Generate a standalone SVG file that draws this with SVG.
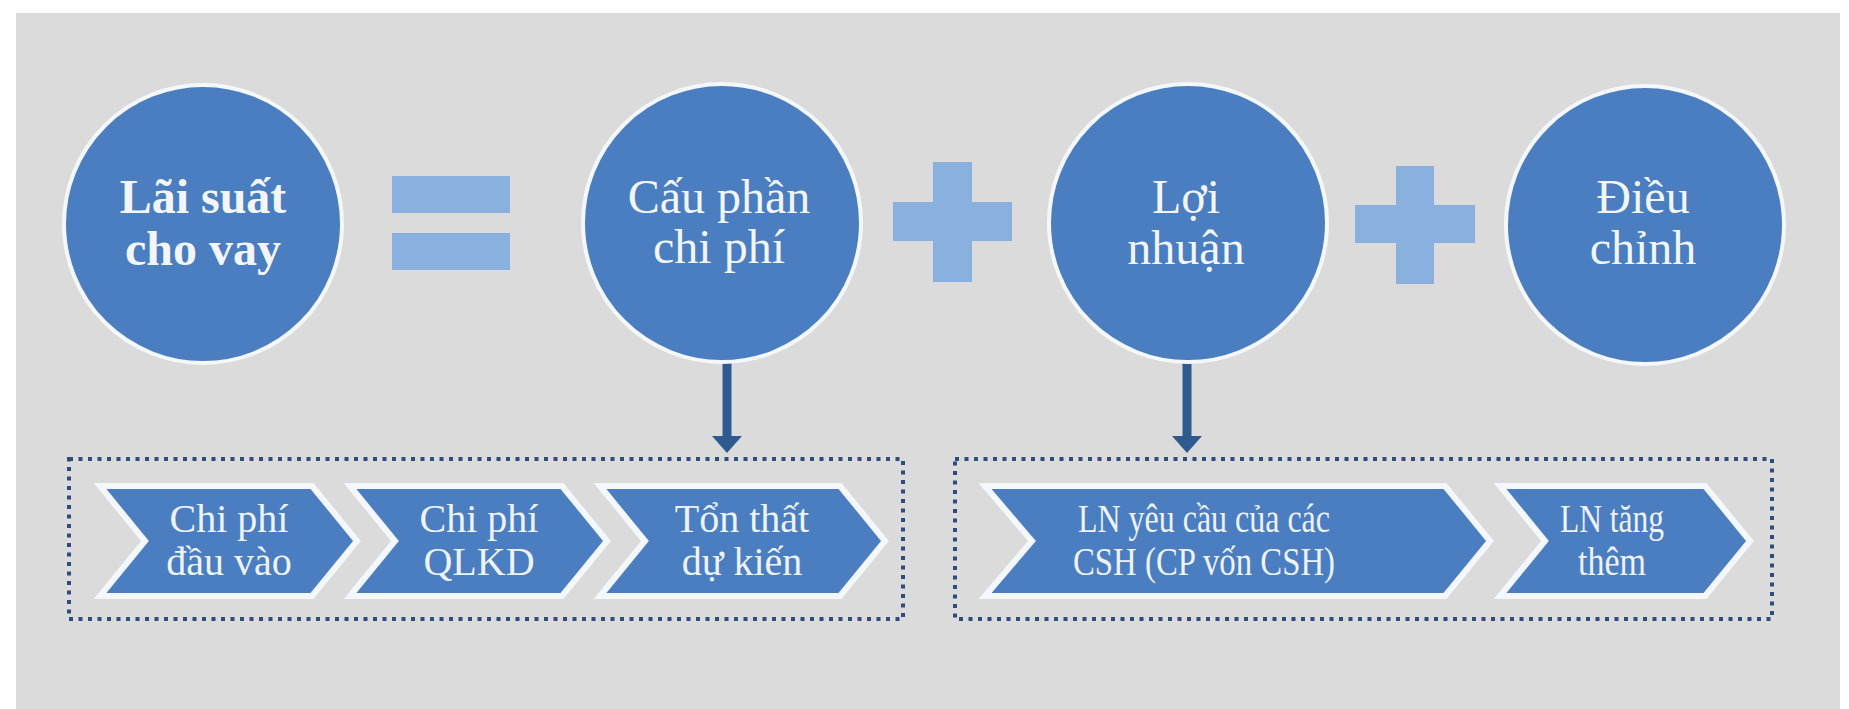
<svg xmlns="http://www.w3.org/2000/svg" width="1849" height="709" viewBox="0 0 1849 709">
  <style>
    .circ { fill: #4A7EC0; stroke: #F4F8FC; stroke-width: 4; }
    .chev { fill: #4A7EC0; stroke: #F4F8FC; stroke-width: 6; stroke-linejoin: miter; }
    .op { fill: #8AB0DF; }
    .ct { font-family: "Liberation Serif", "Times New Roman", serif; font-size: 48px; fill: #F2F6FB; text-anchor: middle; }
    .ctb { font-weight: bold; }
    .cht { font-family: "Liberation Serif", "Times New Roman", serif; font-size: 40px; fill: #EEF3FA; text-anchor: middle; }
    .dots { fill: none; stroke: #2E4C7C; stroke-width: 4; stroke-dasharray: 4 5.5; }
    .shaft { stroke: #2F5A8E; stroke-width: 9; }
    .head { fill: #2F5A8E; }
  </style>
  <rect x="0" y="0" width="1849" height="709" fill="#FFFFFF"/>
  <rect x="16" y="13" width="1824" height="696" fill="#DBDBDB"/>

  <g id="operators">
    <rect class="op" x="392" y="176" width="118" height="37"/>
    <rect class="op" x="392" y="233" width="118" height="37"/>
    <path class="op" d="M933 162 H972 V202 H1012 V241 H972 V282 H933 V241 H893 V202 H933 Z"/>
    <path class="op" d="M1396 166 H1434 V205 H1475 V243 H1434 V284 H1396 V243 H1355 V205 H1396 Z"/>
  </g>

  <g id="connectors">
    <line class="shaft" x1="727" y1="362" x2="727" y2="438"/>
    <polygon class="head" points="712,436 742,436 727,453"/>
    <line class="shaft" x1="1187" y1="362" x2="1187" y2="438"/>
    <polygon class="head" points="1172,436 1202,436 1187,453"/>
  </g>

  <g id="node-lai-suat">
    <circle class="circ" cx="203" cy="224" r="139"/>
    <text class="ct ctb" x="203" y="213">Lãi suất</text>
    <text class="ct ctb" x="203" y="265">cho vay</text>
  </g>
  <g id="node-cau-phan">
    <circle class="circ" cx="722" cy="223" r="139"/>
    <text class="ct" x="719" y="213">Cấu phần</text>
    <text class="ct" x="719" y="263">chi phí</text>
  </g>
  <g id="node-loi-nhuan">
    <circle class="circ" cx="1188" cy="223" r="139"/>
    <text class="ct" x="1186" y="213">Lợi</text>
    <text class="ct" x="1186" y="264">nhuận</text>
  </g>
  <g id="node-dieu-chinh">
    <circle class="circ" cx="1645" cy="225" r="139"/>
    <text class="ct" x="1643" y="213">Điều</text>
    <text class="ct" x="1643" y="264">chỉnh</text>
  </g>

  <g id="group-chi-phi">
    <rect class="dots" x="69" y="459" width="834" height="160"/>
  </g>
  <g id="group-loi-nhuan">
    <rect class="dots" x="955" y="459" width="817" height="160"/>
  </g>

  <g id="step-chi-phi-dau-vao">
    <polygon class="chev" points="100,486 312,486 357,541 312,596 100,596 145,541"/>
    <text class="cht" x="229" y="532">Chi phí</text>
    <text class="cht" x="229" y="575">đầu vào</text>
  </g>
  <g id="step-chi-phi-qlkd">
    <polygon class="chev" points="350,486 562,486 607,541 562,596 350,596 395,541"/>
    <text class="cht" x="479" y="532">Chi phí</text>
    <text class="cht" x="479" y="575">QLKD</text>
  </g>
  <g id="step-ton-that">
    <polygon class="chev" points="600,486 840,486 885,541 840,596 600,596 645,541"/>
    <text class="cht" x="742" y="532">Tổn thất</text>
    <text class="cht" x="742" y="575">dự kiến</text>
  </g>
  <g id="step-ln-yeu-cau">
    <polygon class="chev" points="985,486 1445,486 1490,541 1445,596 985,596 1032,541"/>
    <text class="cht" x="1204" y="532" textLength="252" lengthAdjust="spacingAndGlyphs">LN yêu cầu của các</text>
    <text class="cht" x="1204" y="575" textLength="262" lengthAdjust="spacingAndGlyphs">CSH (CP vốn CSH)</text>
  </g>
  <g id="step-ln-tang-them">
    <polygon class="chev" points="1500,486 1705,486 1750,541 1705,596 1500,596 1545,541"/>
    <text class="cht" x="1612" y="532" textLength="104" lengthAdjust="spacingAndGlyphs">LN tăng</text>
    <text class="cht" x="1612" y="575" textLength="68" lengthAdjust="spacingAndGlyphs">thêm</text>
  </g>
</svg>
